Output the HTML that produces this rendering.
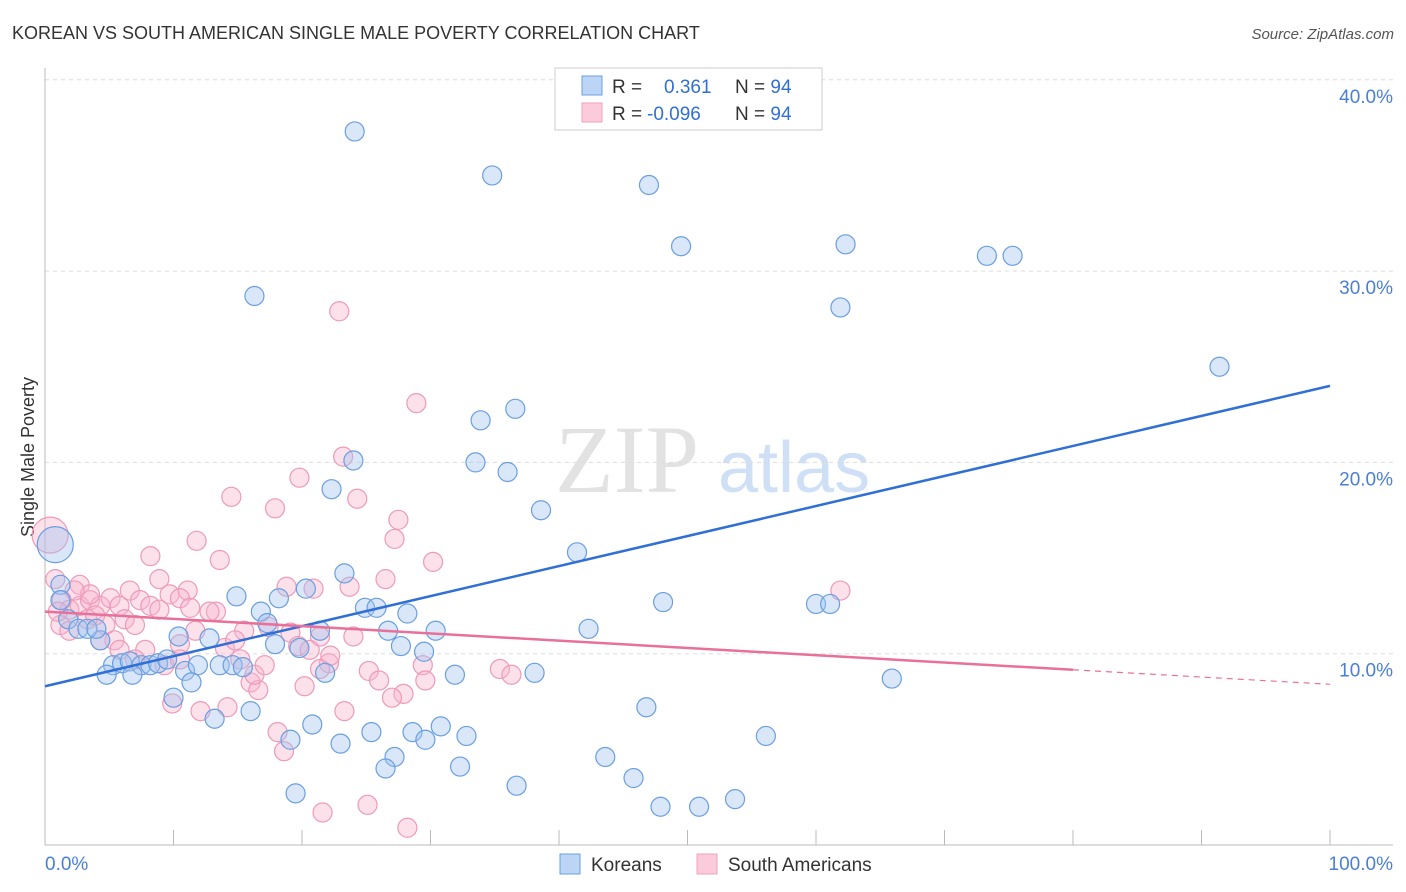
<!DOCTYPE html>
<html><head><meta charset="utf-8"><style>
body{margin:0;background:#fff;font-family:"Liberation Sans",sans-serif;}
svg{display:block}
</style></head><body>
<svg id="chart" width="1406" height="892" viewBox="0 0 1406 892">
<text x="12" y="39" font-size="18" fill="#333">KOREAN VS SOUTH AMERICAN SINGLE MALE POVERTY CORRELATION CHART</text>
<text x="1394" y="39" font-size="15" fill="#555" text-anchor="end" font-style="italic">Source: ZipAtlas.com</text>
<text transform="translate(34,457) rotate(-90)" font-size="18" fill="#333" text-anchor="middle">Single Male Poverty</text>
<g>
<text x="555" y="492" font-family="Liberation Serif,serif" font-size="96" fill="#e2e2e2">ZIP</text>
<text x="718" y="492" font-size="72" fill="#cfdff5">atlas</text>
</g>
<g id="grid"></g>
<g id="axes"></g>
<g id="pts"></g>
<g id="lines"></g>
<g>
<rect x="555" y="68" width="267" height="62" fill="#fff" stroke="#ccc"/>
<rect x="582" y="76" width="20" height="19" fill="#bcd4f5" stroke="#6a9fe0"/>
<rect x="582" y="103" width="20" height="19" fill="#fbcbdb" stroke="#f0a0bc"/>
<text x="612" y="93" font-size="19" fill="#333">R = <tspan fill="#2f6fd6" x="664">0.361</tspan><tspan x="735" fill="#333">N = </tspan><tspan fill="#2f6fd6">94</tspan></text>
<text x="612" y="120" font-size="19" fill="#333">R = <tspan fill="#2f6fd6" x="647">-0.096</tspan><tspan x="735" fill="#333">N = </tspan><tspan fill="#2f6fd6">94</tspan></text>
</g>
<g>
<rect x="560" y="854" width="20" height="20" fill="#bcd4f5" stroke="#6a9fe0"/>
<text x="591" y="871" font-size="19" fill="#333">Koreans</text>
<rect x="697" y="854" width="20" height="20" fill="#fbcbdb" stroke="#f0a0bc"/>
<text x="728" y="871" font-size="19" fill="#333">South Americans</text>
</g>
</svg>
<script>
const yTicks=[10,20,30,40];
const yTickLabels=["10.0%","20.0%","30.0%","40.0%"];
const xTickLabels=["0.0%","100.0%"];
const blueX=[24.1,34.8,47.0,49.5,62.3,73.3,75.3,16.3,61.9,91.4,33.9,36.6,33.5,36.0,24.0,22.3,38.6,41.4,23.3,14.9,18.2,20.3,16.8,17.3,24.9,25.8,28.2,26.7,30.4,21.4,42.3,48.1,60.0,61.1,10.4,12.8,17.9,27.7,19.8,29.5,4.3,1.2,0.8,1.2,1.8,2.6,3.3,4.0,5.3,6.0,6.6,7.5,8.2,8.8,9.5,4.8,6.8,10.9,11.9,13.6,14.6,15.4,21.8,31.9,38.1,11.4,10.0,13.2,16.0,20.8,19.1,23.0,25.4,28.6,29.6,30.8,32.8,27.2,26.5,32.3,43.6,46.8,56.1,65.9,45.8,36.7,19.5,47.9,50.9,53.7];
const blueY=[37.3,35.0,34.5,31.3,31.4,30.8,30.8,28.7,28.1,25.0,22.2,22.8,20.0,19.5,20.1,18.6,17.5,15.3,14.2,13.0,12.9,13.4,12.2,11.6,12.4,12.4,12.1,11.2,11.2,11.2,11.3,12.7,12.6,12.6,10.9,10.8,10.5,10.4,10.3,10.1,10.7,13.6,15.7,12.8,11.8,11.3,11.3,11.3,9.4,9.5,9.6,9.4,9.4,9.5,9.7,8.9,8.9,9.1,9.4,9.4,9.4,9.3,9.0,8.9,9.0,8.5,7.7,6.6,7.0,6.3,5.5,5.3,5.9,5.9,5.5,6.2,5.7,4.6,4.0,4.1,4.6,7.2,5.7,8.7,3.5,3.1,2.7,2.0,2.0,2.4];
const pinkX=[22.9,28.9,23.2,19.8,24.3,14.5,17.9,27.5,27.2,11.8,8.2,13.6,30.2,26.5,20.9,18.8,23.7,8.9,11.1,13.3,15.5,17.4,19.1,19.7,21.4,24.0,22.1,21.4,20.2,25.2,26.0,29.4,29.6,27.9,27.0,23.3,16.0,16.6,14.2,12.1,9.9,18.1,18.6,25.1,21.6,28.2,35.4,36.3,61.9,0.4,0.8,1.3,1.9,2.7,3.5,4.3,5.1,5.8,6.6,7.4,8.2,8.9,9.7,10.5,11.3,2.7,3.5,4.7,5.4,6.2,7.0,7.8,9.3,10.5,11.7,12.8,14.0,15.2,16.3,17.1,1.2,1.9,3.3,3.9,1.0,2.3,4.3,5.8,7.0,10.5,14.8,20.6,22.2];
const pinkY=[27.9,23.1,20.3,19.2,18.1,18.2,17.6,17.0,16.0,15.9,15.1,14.9,14.8,13.9,13.4,13.5,13.5,13.9,13.3,12.2,11.2,11.4,11.1,10.4,10.9,10.9,9.5,9.2,8.3,9.1,8.6,9.4,8.6,7.9,7.7,7.0,8.5,8.1,7.2,7.0,7.4,5.9,4.9,2.1,1.7,0.9,9.2,8.9,13.3,16.2,13.9,12.8,12.3,12.5,12.8,12.5,12.9,12.5,13.3,12.8,12.5,12.3,13.1,12.9,12.4,13.6,13.1,11.5,10.7,11.8,11.5,10.2,9.4,10.5,11.2,12.2,10.3,9.7,8.9,9.4,11.5,11.2,11.8,12.0,12.2,13.3,10.7,10.2,9.7,9.7,10.7,10.2,9.9];
const blueFit=[8.3,24.0];
const pinkFit=[12.2,8.4];
const pinkSolidEnd=80;

const X0=45,X1=1330,Y0=845,PER=19.13;
const sx=v=>X0+(X1-X0)*v/100;
const sy=v=>Y0-v*PER;
const NS="http://www.w3.org/2000/svg";
function mk(tag,attrs,parent){const e=document.createElementNS(NS,tag);for(const k in attrs)e.setAttribute(k,attrs[k]);parent.appendChild(e);return e;}
const grid=document.getElementById('grid'),axes=document.getElementById('axes');
yTicks.forEach((t,i)=>{
  const l=mk('line',{x1:45,x2:1393,y1:sy(t),y2:sy(t),stroke:'#ddd','stroke-dasharray':'4,4'},grid);
  
  
  const tx=mk('text',{x:1393,y:sy(t)+23,'font-size':19,fill:'#4a7fd8','text-anchor':'end'},axes);
  tx.textContent=yTickLabels[i];
  
  
});
const ya=mk('line',{x1:45,x2:45,y1:68,y2:845,stroke:'#bbb'},axes);


const xa=mk('line',{x1:45,x2:1393,y1:845,y2:845,stroke:'#bbb'},axes);


for(let k=0;k<=10;k++){const tk=mk('line',{x1:sx(k*10),x2:sx(k*10),y1:830,y2:845,stroke:'#bbb'},axes);

}
const xl0=mk('text',{x:45,y:870,'font-size':19,fill:'#4a7fd8'},axes);xl0.textContent=xTickLabels[0];


const xl1=mk('text',{x:1393,y:870,'font-size':19,fill:'#4a7fd8','text-anchor':'end'},axes);xl1.textContent=xTickLabels[1];


const pts=document.getElementById('pts');
function dots(xs,ys,fill,stroke,name){xs.forEach((x,i)=>{
  const big=(x<1.5&&ys[i]>15)?18:9.5;
  const c=mk('circle',{cx:sx(x),cy:sy(ys[i]),r:big,fill:fill,stroke:stroke,'stroke-width':1.2},pts);
  
  
});}
dots(pinkX,pinkY,'rgba(248,180,205,0.4)','#ee9ab8','south-american-point');
dots(blueX,blueY,'rgba(160,196,240,0.4)','#6a9fe0','korean-point');
const lines=document.getElementById('lines');
const bl=mk('line',{x1:sx(0),y1:sy(blueFit[0]),x2:sx(100),y2:sy(blueFit[1]),stroke:'#2f6fd6','stroke-width':2.5},lines);


const pAt=x=>pinkFit[0]+(pinkFit[1]-pinkFit[0])*x/100;
const pl=mk('line',{x1:sx(0),y1:sy(pAt(0)),x2:sx(pinkSolidEnd),y2:sy(pAt(pinkSolidEnd)),stroke:'#e8709a','stroke-width':2.5},lines);


const pd=mk('line',{x1:sx(pinkSolidEnd),y1:sy(pAt(pinkSolidEnd)),x2:sx(100),y2:sy(pAt(100)),stroke:'#e8709a','stroke-width':1.2,'stroke-dasharray':'6,5'},lines);


</script>
</body></html>
